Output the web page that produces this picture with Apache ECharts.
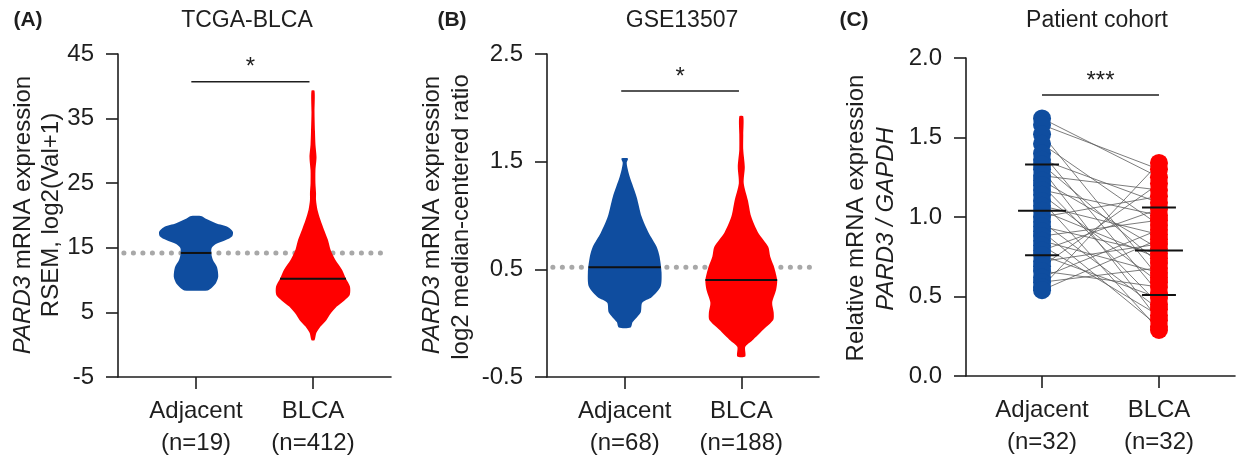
<!DOCTYPE html>
<html>
<head>
<meta charset="utf-8">
<title>PARD3 expression</title>
<script src="https://cdn.jsdelivr.net/npm/echarts@6/dist/echarts.min.js"></script>
<style>
  html, body { margin: 0; padding: 0; background: #fff; }
  #chart { width: 1242px; height: 458px; }
</style>
</head>
<body>
<div id="chart"></div>
<script>
// categories and group sizes
var categories = ['Adjacent', 'BLCA'];
var tcgaN = [19, 412];
var gseN = [68, 188];
var cohortN = [32, 32];

// y tick labels of each panel
var tcgaTicks = [-5, 5, 15, 25, 35, 45];
var gseTicks = [-0.5, 0.5, 1.5, 2.5];
var cohortTicks = [0, 0.5, 1, 1.5, 2];

// violin outlines, top to bottom: [value, half width in category units]
var tcgaAdjacent = [[19.9,0.05],[19.5,0.085],[18.8,0.17],[18.2,0.275],[17.5,0.315],[16.8,0.31],
  [16.2,0.255],[15.6,0.17],[15.0,0.135],[14.2,0.13],[13.1,0.145],[12.0,0.18],[10.5,0.19],
  [9.5,0.17],[8.8,0.135],[8.4,0.10]];
var tcgaBLCA = [[39.3,0.013],[36,0.013],[33,0.017],[31,0.021],[29,0.03],[27,0.021],[25,0.021],
  [23.5,0.026],[22.4,0.026],[20.9,0.038],[19.3,0.064],[17.8,0.094],[16.2,0.128],[14.7,0.15],
  [13.1,0.192],[11.6,0.248],[10.2,0.282],[9.0,0.316],[7.7,0.314],[6.9,0.271],[5.9,0.203],
  [4.9,0.154],[3.8,0.114],[2.8,0.064],[1.8,0.028],[0.7,0.013]];
var gseAdjacent = [[1.53,0.028],[1.49,0.017],[1.43,0.026],[1.36,0.043],[1.17,0.103],[0.99,0.145],
  [0.84,0.205],[0.71,0.274],[0.62,0.299],[0.47,0.316],[0.34,0.308],[0.24,0.231],[0.19,0.15],
  [0.10,0.137],[0.01,0.068],[-0.04,0.051]];
var gseBLCA = [[1.92,0.017],[1.75,0.017],[1.61,0.017],[1.45,0.03],[1.30,0.021],[1.14,0.057],
  [0.99,0.085],[0.84,0.145],[0.71,0.231],[0.62,0.248],[0.52,0.282],[0.40,0.308],[0.31,0.299],
  [0.19,0.265],[0.10,0.278],[0.03,0.274],[-0.06,0.188],[-0.16,0.094],[-0.22,0.034],[-0.31,0.034]];
var tcgaMedian = [14.2, 10.2];
var gseMedian = [0.52, 0.40];

// patient cohort, paired samples (same index = same patient)
var cohortAdjacent = [1.62,1.58,1.52,1.46,1.40,1.36,1.33,1.30,1.26,1.23,1.20,1.17,1.14,1.10,1.07,1.04,
  1.00,0.97,0.94,0.91,0.88,0.85,0.82,0.79,0.76,0.72,0.69,0.66,0.62,0.59,0.56,0.54];
var cohortBLCA = [1.25,1.30,0.62,0.95,0.52,1.09,0.71,0.35,1.17,0.80,0.45,1.01,0.59,0.29,0.89,0.74,
  1.13,0.42,0.77,0.31,0.98,0.65,0.38,1.05,0.49,0.83,1.21,0.56,0.92,0.68,1.34,0.86];
var cohortMean = [1.04, 0.79];
var cohortLow = [0.76, 0.51];
var cohortHigh = [1.33, 1.06];

// significance brackets [from, to, value] and stars
var tcgaSig = [[0.96, 1.97, 40.7]];
var gseSig = [[0.97, 1.98, 2.157]];
var cohortSig = [[1.0, 2.0, 1.767]];
var sigStars = ['*', '*', '***'];

var font = "'Liberation Sans', Arial, Helvetica, sans-serif";
var ink = '#1e1e1e';
var colors = ['#0F4D9F', '#FF0000'];

function widthAt(prof, v) {
  for (var k = 0; k < prof.length - 1; k++) {
    var a = prof[k], b = prof[k + 1];
    if (v <= a[0] && v >= b[0]) {
      var t = (a[0] - v) / (a[0] - b[0]);
      return a[1] + t * (b[1] - a[1]);
    }
  }
  return 0;
}

function violinItem(profiles) {
  return function (params, api) {
    var i = params.dataIndex;
    var cx = api.value(0), med = api.value(1);
    var prof = profiles[i];
    var right = prof.map(function (p) { return api.coord([cx + p[1], p[0]]); });
    var left = prof.slice().reverse().map(function (p) { return api.coord([cx - p[1], p[0]]); });
    var w = widthAt(prof, med);
    var a = api.coord([cx - w, med]), b = api.coord([cx + w, med]);
    return {
      type: 'group',
      children: [
        { type: 'polygon', shape: { points: right.concat(left), smooth: 0.25 }, style: { fill: colors[i] } },
        { type: 'line', shape: { x1: a[0], y1: a[1], x2: b[0], y2: b[1] }, style: { stroke: '#111', lineWidth: 2 } }
      ]
    };
  };
}

function sigItem(star) {
  return function (params, api) {
    var p1 = api.coord([api.value(0), api.value(2)]);
    var p2 = api.coord([api.value(1), api.value(2)]);
    return {
      type: 'group',
      children: [
        { type: 'line', shape: { x1: p1[0], y1: p1[1], x2: p2[0], y2: p2[1] }, style: { stroke: ink, lineWidth: 1.6 } },
        { type: 'text', x: (p1[0] + p2[0]) / 2, y: p1[1] - 14,
          style: { text: star, fontSize: 24, fontFamily: font, fill: ink,
            align: 'center', verticalAlign: 'middle', textAlign: 'center', textVerticalAlign: 'middle' } }
      ]
    };
  };
}

function meanItem(params, api) {
  var x = api.value(0);
  var m1 = api.coord([x - 0.205, api.value(1)]), m2 = api.coord([x + 0.205, api.value(1)]);
  var l1 = api.coord([x - 0.145, api.value(2)]), l2 = api.coord([x + 0.145, api.value(2)]);
  var h1 = api.coord([x - 0.145, api.value(3)]), h2 = api.coord([x + 0.145, api.value(3)]);
  var st = { stroke: '#111', lineWidth: 2 };
  return {
    type: 'group',
    children: [
      { type: 'line', shape: { x1: m1[0], y1: m1[1], x2: m2[0], y2: m2[1] }, style: st },
      { type: 'line', shape: { x1: l1[0], y1: l1[1], x2: l2[0], y2: l2[1] }, style: st },
      { type: 'line', shape: { x1: h1[0], y1: h1[1], x2: h2[0], y2: h2[1] }, style: st }
    ]
  };
}

function catAxis(gridIndex, min, max, counts) {
  return {
    type: 'value', gridIndex: gridIndex, min: min, max: max,
    axisLine: { show: true, onZero: false, lineStyle: { color: ink, width: 1.6 } },
    axisTick: { show: true, length: 12, customValues: [1, 2], lineStyle: { color: ink, width: 1.6 } },
    axisLabel: {
      customValues: [1, 2], margin: 18, color: ink, fontFamily: font, fontSize: 24, lineHeight: 32,
      formatter: function (v) { return categories[v - 1] + '\n(n=' + counts[v - 1] + ')'; }
    },
    splitLine: { show: false }
  };
}

function valAxis(gridIndex, ticks, digits) {
  return {
    type: 'value', gridIndex: gridIndex,
    min: ticks[0], max: ticks[ticks.length - 1], interval: ticks[1] - ticks[0],
    axisLine: { show: true, onZero: false, lineStyle: { color: ink, width: 1.6 } },
    axisTick: { show: true, length: 12, lineStyle: { color: ink, width: 1.6 } },
    axisLabel: {
      margin: 24, color: ink, fontFamily: font, fontSize: 24,
      formatter: function (v) { return v.toFixed(digits); }
    },
    splitLine: { show: false }
  };
}

function refLine(xi, yi, min, max, v) {
  return {
    type: 'line', xAxisIndex: xi, yAxisIndex: yi, silent: true, z: 1,
    data: [[min + 0.05, v], [max - 0.04, v]], showSymbol: false, symbol: 'none',
    lineStyle: { color: '#A8A8A8', width: 5, type: [0.1, 9.4], cap: 'round' }
  };
}

function txt(x, y, text, size, extra) {
  var st = { text: text, fontSize: size, fontFamily: font, fill: ink,
    align: 'center', verticalAlign: 'middle', textAlign: 'center', textVerticalAlign: 'middle' };
  for (var k in extra) st[k] = extra[k];
  return { type: 'text', x: x, y: y, style: st };
}

function vtxt(x, y, text, rich) {
  var el = txt(x, y, text, 24, rich ? { rich: rich } : {});
  el.rotation = Math.PI / 2;
  return el;
}

var italic = { i: { fontStyle: 'italic', fontSize: 24, fontFamily: font, fill: ink } };

var chart = echarts.init(document.getElementById('chart'));
var third = 1 / 3;
chart.setOption({
  animation: false,
  backgroundColor: '#fff',
  grid: [
    { left: 118, top: 54, width: 273, height: 323, containLabel: false, outerBoundsMode: 'none' },
    { left: 547, top: 54, width: 272, height: 323, containLabel: false, outerBoundsMode: 'none' },
    { left: 966, top: 58, width: 269, height: 318, containLabel: false, outerBoundsMode: 'none' }
  ],
  xAxis: [
    catAxis(0, third, 2 + 2 * third, tcgaN),
    catAxis(1, third, 2 + 2 * third, gseN),
    catAxis(2, 0.35, 2.65, cohortN)
  ],
  yAxis: [
    valAxis(0, tcgaTicks, 0),
    valAxis(1, gseTicks, 1),
    valAxis(2, cohortTicks, 1)
  ],
  graphic: [
    txt(247, 21, 'TCGA-BLCA', 23),
    txt(682, 21, 'GSE13507', 23),
    txt(1097, 21, 'Patient cohort', 23),
    txt(28, 20, '(A)', 21, { fontWeight: 'bold' }),
    txt(452, 20, '(B)', 21, { fontWeight: 'bold' }),
    txt(854, 20, '(C)', 21, { fontWeight: 'bold' }),
    vtxt(23.5, 215, '{i|PARD3} mRNA expression', italic),
    vtxt(51.5, 215, 'RSEM, log2(Val+1)'),
    vtxt(432, 215, '{i|PARD3} mRNA expression', italic),
    vtxt(461, 217, 'log2 median-centered ratio'),
    vtxt(856, 218, 'Relative mRNA expression'),
    vtxt(886, 219, '{i|PARD3 / GAPDH}', italic)
  ],
  series: [
    refLine(0, 0, third, 2 + 2 * third, tcgaMedian[0]),
    refLine(1, 1, third, 2 + 2 * third, gseMedian[0]),
    {
      type: 'custom', xAxisIndex: 0, yAxisIndex: 0, z: 2, silent: true,
      data: [[1, tcgaMedian[0]], [2, tcgaMedian[1]]], encode: { x: 0, y: 1 },
      renderItem: violinItem([tcgaAdjacent, tcgaBLCA])
    },
    {
      type: 'custom', xAxisIndex: 1, yAxisIndex: 1, z: 2, silent: true,
      data: [[1, gseMedian[0]], [2, gseMedian[1]]], encode: { x: 0, y: 1 },
      renderItem: violinItem([gseAdjacent, gseBLCA])
    },
    {
      type: 'custom', xAxisIndex: 0, yAxisIndex: 0, z: 3, silent: true,
      data: tcgaSig, encode: { x: [0, 1], y: 2 }, renderItem: sigItem(sigStars[0])
    },
    {
      type: 'custom', xAxisIndex: 1, yAxisIndex: 1, z: 3, silent: true,
      data: gseSig, encode: { x: [0, 1], y: 2 }, renderItem: sigItem(sigStars[1])
    },
    {
      type: 'custom', xAxisIndex: 2, yAxisIndex: 2, z: 3, silent: true,
      data: cohortSig, encode: { x: [0, 1], y: 2 }, renderItem: sigItem(sigStars[2])
    },
    {
      type: 'lines', coordinateSystem: 'cartesian2d', xAxisIndex: 2, yAxisIndex: 2, z: 1, silent: true,
      data: cohortAdjacent.map(function (b, i) { return { coords: [[1, b], [2, cohortBLCA[i]]] }; }),
      lineStyle: { color: '#5a5a5a', width: 0.8, opacity: 1 }
    },
    {
      type: 'scatter', xAxisIndex: 2, yAxisIndex: 2, z: 2, silent: true, symbolSize: 18,
      data: cohortAdjacent.map(function (v) { return [1, v]; }),
      itemStyle: { color: colors[0], opacity: 1 }
    },
    {
      type: 'scatter', xAxisIndex: 2, yAxisIndex: 2, z: 2, silent: true, symbolSize: 18,
      data: cohortBLCA.map(function (v) { return [2, v]; }),
      itemStyle: { color: colors[1], opacity: 1 }
    },
    {
      type: 'custom', xAxisIndex: 2, yAxisIndex: 2, z: 4, silent: true,
      data: [[1, cohortMean[0], cohortLow[0], cohortHigh[0]], [2, cohortMean[1], cohortLow[1], cohortHigh[1]]],
      encode: { x: 0, y: [1, 2, 3] }, renderItem: meanItem
    }
  ]
});
</script>
</body>
</html>
